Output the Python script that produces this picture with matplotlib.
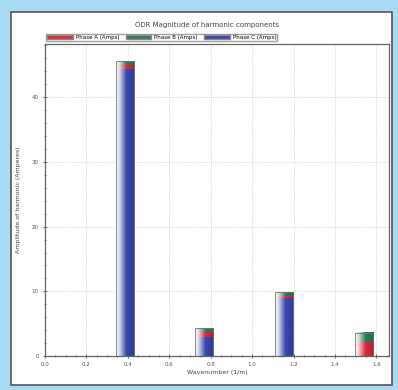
import numpy as np
import matplotlib.pyplot as plt
from matplotlib.colors import LinearSegmentedColormap, to_rgb
from matplotlib.patches import Patch, Rectangle
from matplotlib.ticker import MultipleLocator


# harmonic wavenumbers (1/m) and amplitudes per phase (stacked blue, red, green)
wavenumbers = [0.385, 0.77, 1.155, 1.54]
phase_c = [44.3, 2.9, 9.0, 0.0]
phase_a = [0.7, 0.8, 0.3, 2.2]
phase_b = [0.6, 0.6, 0.6, 1.4]

labels = ['Phase A (Amps)', 'Phase B (Amps)', 'Phase C (Amps)']
colors = {'a': '#dd2a3c', 'b': '#2f7f55', 'c': '#3a48b0'}

bar_w = 0.087

fig = plt.figure(figsize=(3.98, 3.90), dpi=100)
fig.patch.set_facecolor('#a9dcf4')
# white panel behind the chart
fig.patches.append(Rectangle((0.027, 0.012), 0.958, 0.958, transform=fig.transFigure,
                             facecolor='white', edgecolor='#555555', linewidth=1.2, zorder=-5))

ax = fig.add_axes([0.113, 0.087, 0.864, 0.800])
ax.set_zorder(2)


def gradient_bar(x, bottom, height, color):
    if height <= 0:
        return
    c = np.array(to_rgb(color))
    light = 0.25 * c + 0.75
    dark = 0.8 * c
    cmap = LinearSegmentedColormap.from_list(
        'g', [(0.0, '#ffffff'), (0.2, light), (0.55, c), (1.0, dark)])
    grad = np.linspace(0, 1, 64).reshape(1, -1)
    x0 = x - bar_w / 2
    ax.imshow(grad, extent=[x0, x0 + bar_w, bottom, bottom + height], cmap=cmap,
              aspect='auto', zorder=2, interpolation='bicubic')


bottom = np.zeros(len(wavenumbers))
for vals, key in [(phase_c, 'c'), (phase_a, 'a'), (phase_b, 'b')]:
    for i, x in enumerate(wavenumbers):
        gradient_bar(x, bottom[i], vals[i], colors[key])
    bottom = bottom + np.array(vals)

# outline of each bar
ax.bar(wavenumbers, bottom, width=bar_w, facecolor='none', edgecolor='#777777',
       linewidth=0.6, zorder=3)

ax.set_xlim(0, 1.66)
ax.set_ylim(0, 48.2)
ax.xaxis.set_major_locator(MultipleLocator(0.2))
ax.xaxis.set_minor_locator(MultipleLocator(0.05))
ax.yaxis.set_major_locator(MultipleLocator(10))
ax.yaxis.set_minor_locator(MultipleLocator(2))
ax.xaxis.set_major_formatter(plt.FuncFormatter(lambda v, p: f'{v:.1f}'))
ax.tick_params(which='both', direction='inout', labelsize=4, colors='#555555',
               length=3, width=0.6, pad=3)
ax.tick_params(which='minor', length=2)
ax.grid(True, which='major', linestyle=':', color='#c4c4c4', linewidth=0.6)
ax.set_axisbelow(True)
for s in ax.spines.values():
    s.set_color('#666666')
    s.set_linewidth(0.9)

ax.set_xlabel('Wavenumber (1/m)', fontsize=4.5, color='#444444', labelpad=2)
ax.set_ylabel('Amplitude of harmonic (Amperes)', fontsize=4.5, color='#444444', labelpad=8)
fig.text(0.52, 0.937, 'ODR Magnitude of harmonic components', ha='center', va='center',
         fontsize=5, color='#444444')

handles = [Patch(facecolor=colors['a'], edgecolor='#888888'),
           Patch(facecolor=colors['b'], edgecolor='#888888'),
           Patch(facecolor=colors['c'], edgecolor='#888888')]
ax.legend(handles, labels, ncol=3, loc='lower left', bbox_to_anchor=(0.0, 1.005),
          fontsize=4, frameon=True, fancybox=False, edgecolor='#888888',
          handlelength=4.6, handleheight=0.8, borderpad=0.2, columnspacing=1.2,
          handletextpad=0.5, borderaxespad=0.2)

plt.savefig('out.png', dpi=100, facecolor=fig.get_facecolor())
